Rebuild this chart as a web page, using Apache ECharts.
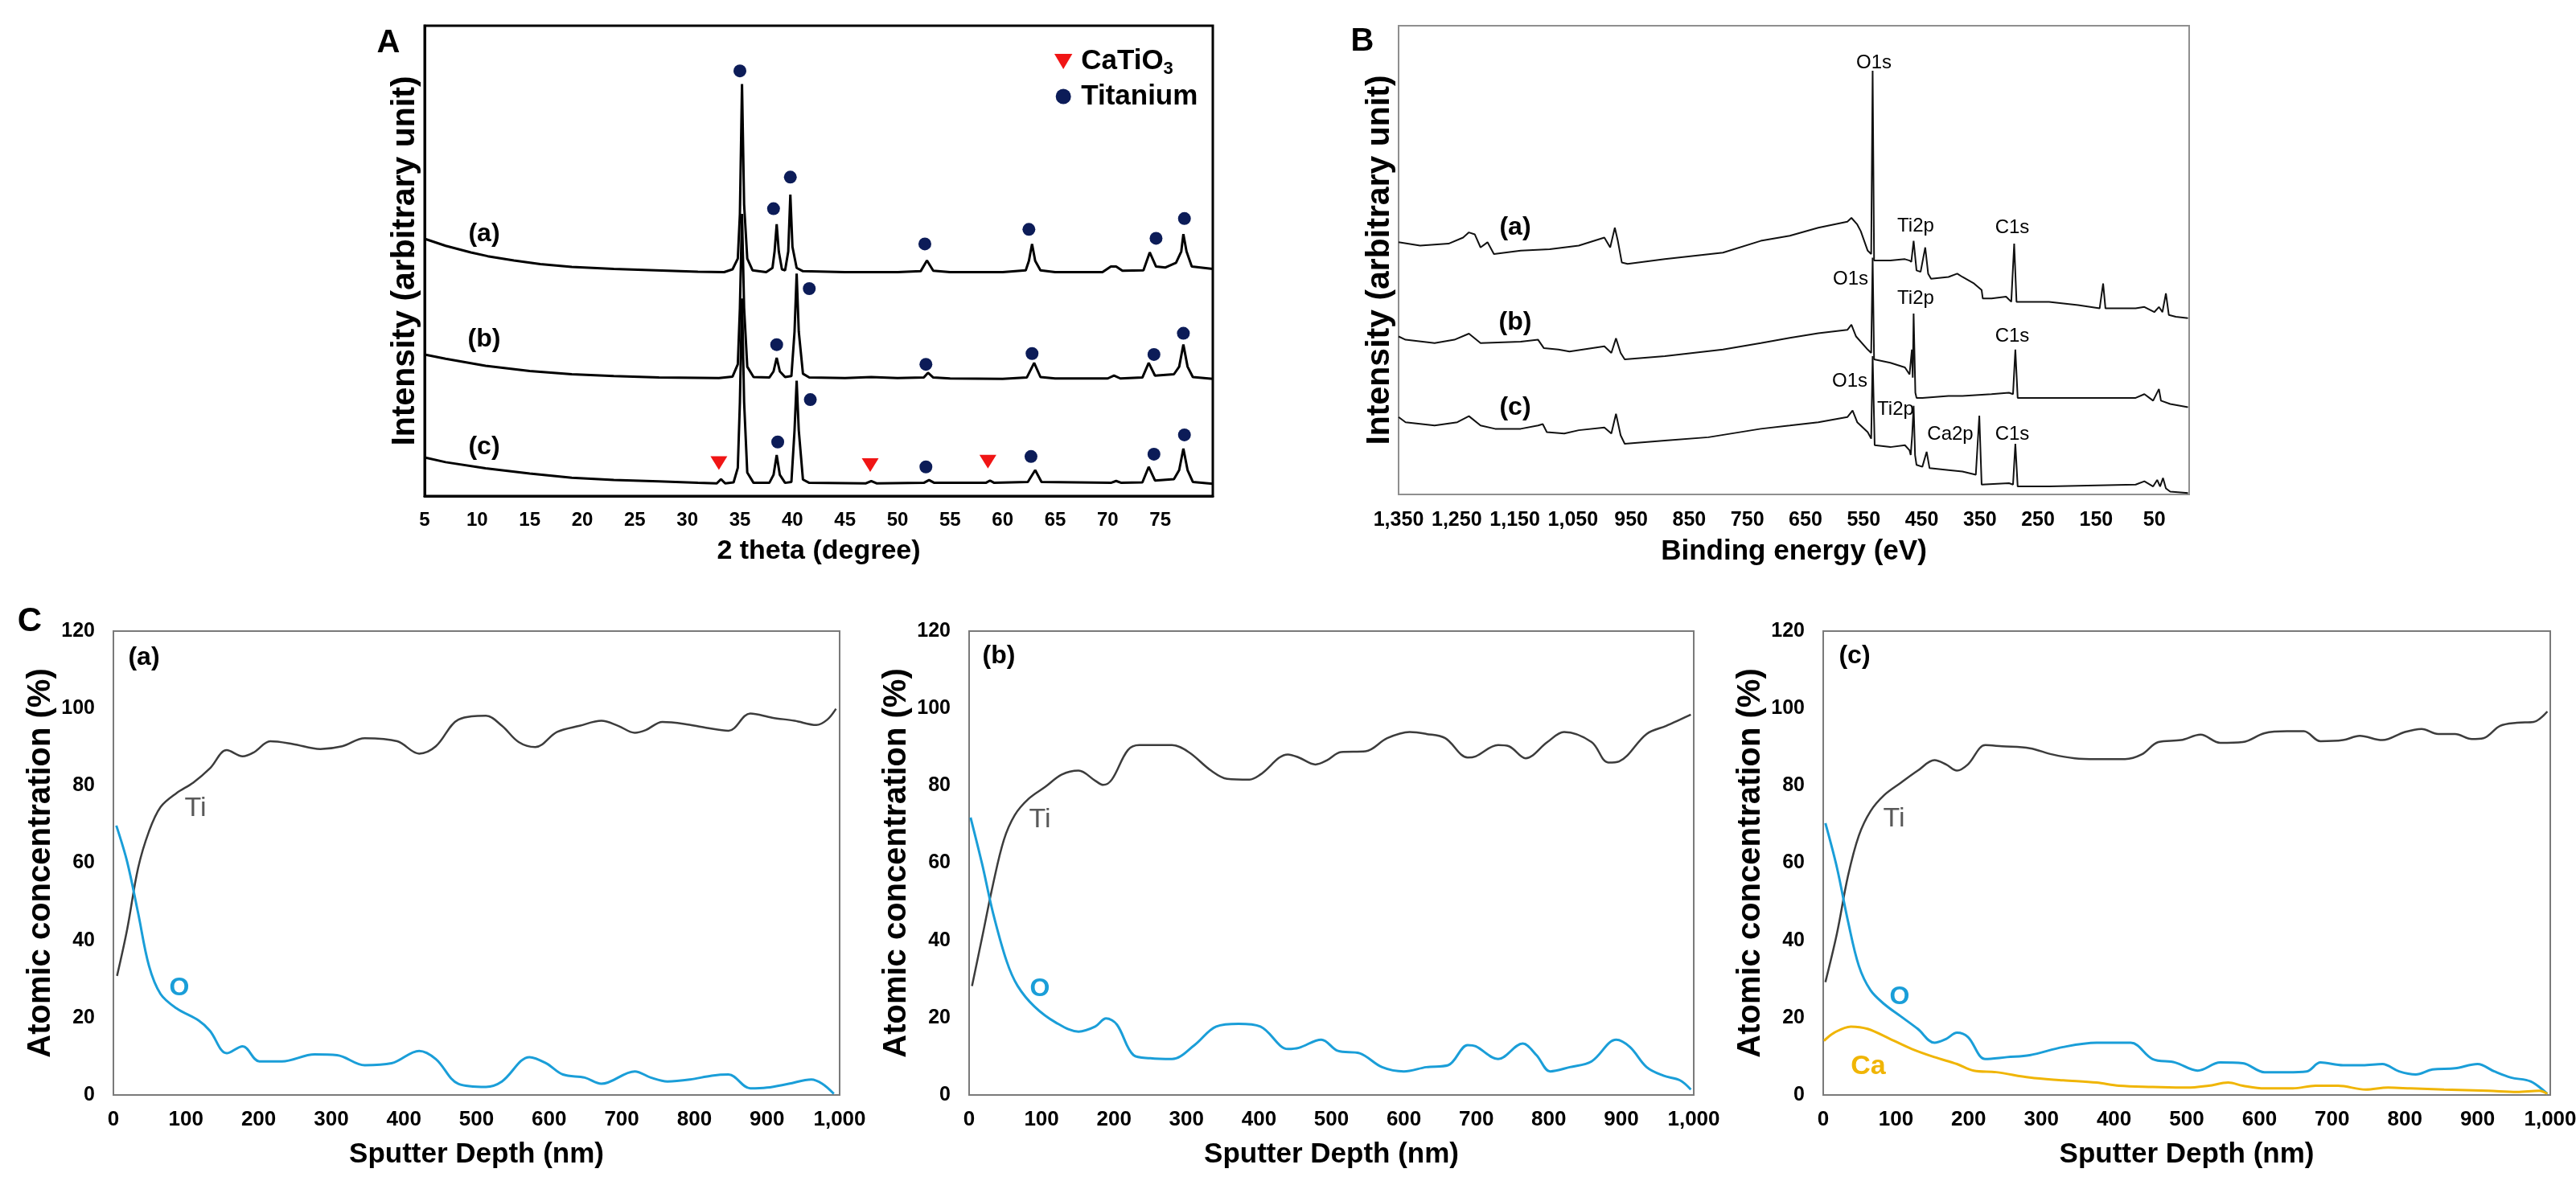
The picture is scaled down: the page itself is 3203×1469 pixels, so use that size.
<!DOCTYPE html>
<html>
<head>
<meta charset="utf-8">
<title>XRD, XPS and depth profiles</title>
<script src="https://cdn.jsdelivr.net/npm/echarts@6/dist/echarts.min.js"></script>
<style>
  html, body { margin: 0; padding: 0; background: #fff; }
  #chart { width: 3203px; height: 1469px; }
</style>
</head>
<body>
<div id="chart"></div>
<script>
// ---------- A: XRD patterns [2 theta, intensity (arb.)], curves stacked ----------
const xrdA = [[5,54.7],[7,53.2],[9.4,51.8],[11,51.0],[13.5,50.1],[16,49.3],[19,48.7],[23,48.3],[27,48.0],[31,47.7],[33.5,47.6],[34.3,48.2],[34.8,50.5],[35.0,60],[35.2,87.6],[35.4,62],[35.7,50.5],[36.2,48.0],[37.5,47.6],[38.1,48.5],[38.3,52],[38.5,57.8],[38.7,52],[39.0,48.2],[39.3,48.0],[39.6,52],[39.8,64.1],[40.0,53],[40.4,48.5],[41,47.8],[45,47.6],[50,47.6],[52.2,47.8],[52.8,50.1],[53.4,47.9],[55,47.6],[60,47.6],[62.2,48.0],[62.5,50],[62.8,53.6],[63.1,50],[63.6,48.0],[65,47.6],[69.5,47.6],[70.3,48.8],[70.8,48.8],[71.4,47.9],[73.4,48.0],[74.0,51.8],[74.6,48.8],[75.5,48.6],[76.5,49.6],[77.0,52],[77.2,55.7],[77.5,52],[78.0,48.8],[80,48.3]];
const xrdB = [[5,30.1],[7,29.2],[10.8,27.7],[15,26.6],[19,25.9],[23,25.5],[27.3,25.2],[33,25.1],[34.3,25.4],[34.8,28],[35.0,40],[35.2,60],[35.4,40],[35.7,27.5],[36.3,25.3],[37.8,25.2],[38.2,26.5],[38.5,29.4],[38.8,26.5],[39.3,25.3],[39.9,25.5],[40.2,35],[40.4,47.3],[40.6,35],[41.0,26],[41.6,25.2],[45,25.1],[47.5,25.3],[50,25.1],[52.5,25.2],[52.9,26.2],[53.4,25.2],[55,25.0],[60,24.9],[62.3,25.2],[63.0,28.3],[63.6,25.3],[65,25.0],[70,25.0],[70.6,25.6],[71.2,25.0],[73.3,25.2],[73.9,28.3],[74.5,25.6],[76.3,25.9],[76.8,27.5],[77.2,32.2],[77.6,27.5],[78.1,25.3],[80,24.9]];
const xrdC = [[5,8.2],[7,7.2],[10.8,5.9],[15,4.8],[19,3.9],[23,3.4],[27.3,3.1],[31,2.8],[32.8,2.7],[33.2,3.6],[33.6,2.7],[34.4,2.9],[34.8,6],[35.0,20],[35.2,42],[35.4,20],[35.7,5],[36.3,2.8],[37.8,2.8],[38.2,4.5],[38.5,8.7],[38.8,4.5],[39.3,2.8],[39.9,3.0],[40.2,14],[40.4,24.5],[40.6,14],[41.0,3.5],[41.6,2.8],[47.0,2.7],[47.5,3.2],[48.0,2.7],[52.5,2.8],[53.0,3.4],[53.5,2.8],[58.4,2.8],[58.8,3.3],[59.2,2.8],[62.4,3.0],[63.1,5.5],[63.7,3.0],[70.3,2.8],[70.8,3.2],[71.3,2.8],[73.3,2.9],[73.9,6.2],[74.5,3.3],[76.3,3.6],[76.8,5.5],[77.2,10.1],[77.6,5.5],[78.1,3.0],[80,2.6]];
const titaniumPeaks = [[35.0,90.4],[38.2,61.1],[39.8,67.8],[52.6,53.6],[62.5,56.7],[74.6,54.8],[77.3,59.0],
  [41.6,44.1],[38.5,32.2],[52.7,28.0],[62.8,30.3],[74.4,30.1],[77.2,34.6],
  [41.7,20.5],[38.6,11.5],[52.7,6.2],[62.7,8.4],[74.4,8.9],[77.3,13.0]];
const catio3Peaks = [[33.0,7.0],[47.4,6.6],[58.6,7.3]];

// ---------- B: XPS survey [binding energy eV, intensity (arb.)] ----------
const xpsA = [[1350,53.8],[1313,53.1],[1264,53.5],[1239,54.8],[1229,55.9],[1219,55.5],[1209,52.7],[1197,53.8],[1186,51.3],[1140,52.0],[1090,52.3],[1040,53.1],[996,54.8],[986,52.7],[978,56.9],[973,54.2],[966,49.5],[956,49.2],[892,50.2],[792,51.6],[727,54.1],[677,55.2],[628,56.9],[578,58.2],[571,59.0],[561,57.6],[555,56.2],[543,52.0],[537,51.3],[534.5,90.4],[532,49.9],[504,49.9],[479,50.2],[471,49.9],[468,49.6],[464,54.1],[459,47.8],[452,47.5],[444,52.7],[439,47.1],[434,46.0],[404,46.4],[389,47.1],[380,46.4],[360,45.0],[347,43.6],[345,41.8],[330,41.8],[305,42.2],[296,41.1],[291,53.5],[287,41.1],[281,41.1],[231,41.1],[181,40.4],[144,39.7],[138,45.0],[134,39.7],[82,39.7],[67,40.0],[50,38.9],[42,40.0],[36,38.9],[30,42.9],[25,38.3],[13,37.9],[-8,37.6]];
const xpsB = [[1350,33.7],[1338,33.0],[1288,32.3],[1254,33.0],[1229,34.3],[1209,32.3],[1140,32.6],[1110,33.0],[1100,31.2],[1075,30.9],[1056,30.5],[996,31.6],[984,30.2],[976,33.3],[968,30.2],[961,28.8],[892,29.5],[792,30.9],[727,32.3],[677,33.4],[628,34.4],[578,35.1],[571,36.2],[563,33.7],[543,30.9],[537,30.2],[534.5,50.5],[532,28.8],[504,28.1],[479,27.1],[471,25.6],[469,25.3],[467,30.9],[465.5,24.9],[464,38.6],[461,21.7],[459,20.6],[449,20.6],[404,21.0],[380,21.0],[330,21.4],[300,21.7],[293,21.4],[289,30.9],[285,20.6],[231,20.6],[82,20.6],[67,21.4],[52,20.0],[42,22.5],[38.5,20.0],[22.6,19.3],[-8,18.6]];
const xpsC = [[1350,16.5],[1338,15.4],[1288,14.7],[1249,15.4],[1229,16.7],[1209,14.7],[1184,14.0],[1140,14.0],[1110,14.7],[1102,15.0],[1095,13.3],[1065,13.0],[1040,13.7],[996,14.3],[984,13.0],[976,17.2],[968,12.6],[961,10.8],[892,11.5],[817,12.2],[727,14.0],[677,14.7],[628,15.4],[578,16.5],[569,17.9],[561,15.4],[543,13.3],[537,11.9],[534.5,29.5],[531,10.5],[504,10.1],[479,10.5],[471,9.4],[469,8.4],[466.5,12.6],[464,18.9],[461.5,8.4],[459,6.3],[449,5.9],[441.6,9.1],[436.6,5.6],[404,5.2],[380,4.9],[357,4.2],[351,16.8],[347,2.1],[300,2.4],[293,2.1],[289,10.8],[285,1.7],[231,1.7],[82,2.1],[67,2.8],[52,1.7],[45,3.1],[40,1.7],[35,3.5],[30,1.3],[22.6,0.6],[-8,0.3]];

// ---------- C: depth profiles [sputter depth nm, atomic %] ----------
const tiA = [[5,30.8],[19,42.9],[34,58.7],[49,68.2],[65,74.5],[87,78.1],[110,80.8],[133,84.5],[156,89.2],[178,87.6],[194,88.7],[216,91.5],[247,90.8],[285,89.5],[315,90.2],[346,92.3],[391,91.5],[421,88.3],[444,90.2],[475,97.1],[513,98.1],[535,95.5],[558,91.3],[581,90.0],[611,93.9],[642,95.5],[672,96.8],[695,95.5],[718,93.7],[733,94.4],[756,96.5],[786,96.0],[816,95.0],[847,94.2],[877,98.7],[907,97.6],[938,96.8],[968,95.7],[983,97.1],[995,99.9]];
const oA = [[4,69.7],[19,60.3],[34,47.1],[49,33.4],[65,26.1],[87,22.4],[118,19.2],[133,16.6],[156,10.8],[178,12.6],[201,8.7],[232,8.7],[277,10.5],[308,10.3],[346,7.7],[383,8.2],[421,11.4],[444,9.3],[475,2.9],[513,2.1],[535,3.5],[573,9.8],[596,8.2],[619,5.3],[649,4.5],[672,2.9],[718,6.1],[740,4.5],[763,3.5],[794,4.0],[824,5.0],[847,5.3],[877,1.7],[900,1.9],[930,2.9],[961,4.0],[976,2.9],[992,0.3]];
const tiB = [[4,28.2],[18,40.8],[33,54.5],[48,66.0],[63,72.4],[82,76.6],[105,79.7],[128,82.9],[151,83.9],[174,81.3],[185,80.2],[197,81.6],[219,89.2],[235,90.5],[280,90.5],[303,88.7],[334,83.9],[356,81.8],[387,81.6],[402,82.9],[440,88.1],[455,87.3],[478,85.5],[494,86.6],[513,88.7],[547,88.9],[577,92.3],[608,93.9],[631,93.4],[657,92.3],[688,87.3],[699,87.6],[730,90.5],[745,90.2],[768,87.1],[798,91.3],[821,93.9],[859,91.3],[882,86.0],[897,86.3],[935,93.4],[962,95.5],[981,97.1],[996,98.4]];
const oB = [[2,71.8],[18,59.7],[33,47.1],[52,34.5],[67,28.2],[90,22.9],[120,18.7],[151,16.4],[174,17.7],[189,19.8],[204,18.2],[227,10.3],[250,9.5],[280,9.3],[311,12.9],[341,17.7],[372,18.4],[402,17.7],[440,11.9],[455,12.2],[486,14.3],[509,11.4],[539,10.8],[570,7.2],[600,6.1],[631,7.2],[661,7.7],[688,12.9],[699,12.6],[730,9.3],[764,13.3],[783,10.3],[802,6.1],[829,7.2],[859,8.7],[893,14.3],[912,12.4],[935,7.2],[958,5.0],[981,3.8],[996,1.4]];
const tiC = [[3,29.2],[19,41.9],[34,56.6],[49,67.1],[65,73.4],[84,77.6],[107,80.8],[130,83.9],[153,86.6],[169,85.5],[184,83.9],[199,85.5],[223,90.5],[246,90.2],[284,89.7],[315,88.1],[346,87.1],[376,86.9],[415,86.9],[438,88.1],[461,91.3],[492,91.8],[519,93.2],[546,91.1],[577,91.3],[607,93.6],[638,94.1],[661,94.1],[684,91.5],[715,91.8],[738,92.9],[769,91.8],[800,93.9],[823,94.7],[846,93.4],[869,93.4],[892,92.1],[908,92.3],[931,95.5],[954,96.3],[977,96.5],[996,99.2]];
const oC = [[3,70.3],[19,58.7],[34,45.0],[49,33.4],[65,27.1],[84,23.5],[107,20.3],[130,17.1],[153,13.5],[169,14.5],[184,16.1],[199,15.0],[223,9.3],[253,9.8],[284,10.3],[330,12.4],[376,13.5],[423,13.5],[453,9.3],[484,8.4],[515,6.3],[546,8.4],[577,8.2],[607,5.9],[638,5.9],[665,6.1],[684,8.4],[715,7.7],[742,7.7],[769,8.0],[792,6.1],[815,5.3],[838,6.6],[869,6.9],[900,8.0],[923,6.1],[946,4.5],[973,3.5],[996,0.3]];
const caC = [[1,14.0],[15,16.1],[38,17.7],[61,17.1],[92,14.5],[122,11.9],[153,9.8],[184,8.0],[207,6.3],[238,5.9],[284,4.5],[330,3.8],[376,3.2],[407,2.4],[453,2.1],[500,1.9],[530,2.4],[557,3.2],[577,2.4],[607,1.7],[646,1.7],[677,2.4],[708,2.4],[746,1.4],[777,1.9],[808,1.7],[854,1.4],[915,1.1],[954,0.8],[985,1.1],[996,0.3]];

const BE_START = 1350; // left end of the binding energy axis

const FONT = "'Liberation Sans', Arial, Helvetica, sans-serif";
const TI_COLOR = '#3c3c3c';
const O_COLOR = '#1a9ed8';
const CA_COLOR = '#f0b505';
const NAVY = '#0c1c58';
const RED = '#f01515';
const DOWN_TRIANGLE = 'path://M0,0 L20,0 L10,17 Z';

// annotations: [text, x, y, size, weight, color]
const annotations = [
  ['A', 483, 54, 40, 'bold', '#000'],
  ['B', 1694, 52, 40, 'bold', '#000'],
  ['C', 37, 773, 42, 'bold', '#000'],
  ['(a)', 602, 291, 32, 'bold', '#000'],
  ['(b)', 602, 422, 32, 'bold', '#000'],
  ['(c)', 602, 556, 32, 'bold', '#000'],
  ['(a)', 1884, 283, 32, 'bold', '#000'],
  ['(b)', 1884, 401, 32, 'bold', '#000'],
  ['(c)', 1884, 507, 32, 'bold', '#000'],
  ['O1s', 2330, 78, 24, 'normal', '#000'],
  ['Ti2p', 2382, 281, 24, 'normal', '#000'],
  ['C1s', 2502, 283, 24, 'normal', '#000'],
  ['O1s', 2301, 347, 24, 'normal', '#000'],
  ['Ti2p', 2382, 371, 24, 'normal', '#000'],
  ['C1s', 2502, 418, 24, 'normal', '#000'],
  ['O1s', 2300, 474, 24, 'normal', '#000'],
  ['Ti2p', 2357, 509, 24, 'normal', '#000'],
  ['Ca2p', 2425, 540, 24, 'normal', '#000'],
  ['C1s', 2502, 540, 24, 'normal', '#000'],
  ['(a)', 179, 818, 32, 'bold', '#000'],
  ['(b)', 1242, 816, 32, 'bold', '#000'],
  ['(c)', 2306, 816, 32, 'bold', '#000'],
  ['Ti', 243, 1006, 34, 'normal', '#595959'],
  ['O', 223, 1229, 32, 'bold', O_COLOR],
  ['Ti', 1293, 1020, 34, 'normal', '#595959'],
  ['O', 1293, 1230, 32, 'bold', O_COLOR],
  ['Ti', 2355, 1019, 34, 'normal', '#595959'],
  ['O', 2362, 1240, 32, 'bold', O_COLOR],
  ['Ca', 2323, 1327, 34, 'bold', CA_COLOR]
];

const chart = echarts.init(document.getElementById('chart'), null, { renderer: 'canvas' });

const boldText = (size) => ({ fontSize: size, fontWeight: 'bold', color: '#000', fontFamily: FONT });
const noAxisBits = { axisTick: { show: false }, splitLine: { show: false } };

const gridBox = (left, top, width, height, color, bw) => ({
  left, top, width, height, show: true, borderColor: color, borderWidth: bw,
  containLabel: false, outerBoundsMode: 'none'
});

const grids = [
  gridBox(528, 32, 980, 585, '#000', 3),
  gridBox(1739, 32, 983, 583, '#8f8f8f', 2),
  gridBox(141, 785, 903, 577, '#7a7a7a', 2),
  gridBox(1205, 785, 901, 577, '#7a7a7a', 2),
  gridBox(2267, 785, 904, 577, '#7a7a7a', 2)
];

const xAxes = [
  Object.assign({
    gridIndex: 0, type: 'value', min: 5, max: 80, interval: 5,
    axisLine: { lineStyle: { color: '#000', width: 3 } },
    axisLabel: Object.assign({ margin: 18, showMaxLabel: false }, boldText(24)),
    name: '2 theta (degree)', nameLocation: 'middle', nameGap: 52, nameTextStyle: boldText(34)
  }, noAxisBits),
  Object.assign({
    gridIndex: 1, type: 'value', min: 0, max: 1360, interval: 100,
    axisLine: { lineStyle: { color: '#8f8f8f', width: 2 } },
    axisLabel: Object.assign({
      margin: 20, showMaxLabel: false,
      formatter: (v) => (BE_START - v).toLocaleString('en-US')
    }, boldText(25)),
    name: 'Binding energy (eV)', nameLocation: 'middle', nameGap: 54, nameTextStyle: boldText(35)
  }, noAxisBits)
];
for (let i = 2; i < 5; i++) {
  xAxes.push(Object.assign({
    gridIndex: i, type: 'value', min: 0, max: 1000, interval: 100,
    axisLine: { lineStyle: { color: '#7a7a7a', width: 2 } },
    axisLabel: Object.assign({ margin: 18, formatter: (v) => v.toLocaleString('en-US') }, boldText(26)),
    name: 'Sputter Depth (nm)', nameLocation: 'middle', nameGap: 57, nameTextStyle: boldText(35)
  }, noAxisBits));
}

const yAxes = [
  Object.assign({
    gridIndex: 0, type: 'value', min: 0, max: 100,
    axisLine: { show: true, lineStyle: { color: '#000', width: 3 } },
    axisLabel: { show: false },
    name: 'Intensity (arbitrary unit)', nameLocation: 'middle', nameRotate: 90, nameGap: 4,
    nameTextStyle: boldText(41)
  }, noAxisBits),
  Object.assign({
    gridIndex: 1, type: 'value', min: 0, max: 100,
    axisLine: { show: true, lineStyle: { color: '#8f8f8f', width: 2 } },
    axisLabel: { show: false },
    name: 'Intensity (arbitrary unit)', nameLocation: 'middle', nameRotate: 90, nameGap: 3,
    nameTextStyle: boldText(41)
  }, noAxisBits)
];
for (let i = 2; i < 5; i++) {
  yAxes.push(Object.assign({
    gridIndex: i, type: 'value', min: 0, max: 120, interval: 20,
    axisLine: { show: true, lineStyle: { color: '#7a7a7a', width: 2 } },
    axisLabel: Object.assign({ margin: 23 }, boldText(25)),
    name: 'Atomic concentration (%)', nameLocation: 'middle', nameRotate: 90, nameGap: 70,
    nameTextStyle: boldText(40)
  }, noAxisBits));
}

const line = (idx, data, color, width, smooth) => ({
  type: 'line', xAxisIndex: idx, yAxisIndex: idx, data,
  showSymbol: false, symbol: 'none', smooth: smooth || false,
  lineStyle: { color, width }, z: 3
});

const series = [
  line(0, xrdA, '#000', 3),
  line(0, xrdB, '#000', 3),
  line(0, xrdC, '#000', 3),
  {
    name: 'Titanium', type: 'scatter', xAxisIndex: 0, yAxisIndex: 0, data: titaniumPeaks,
    symbol: 'circle', symbolSize: 16, itemStyle: { color: NAVY, opacity: 1 }, z: 5
  },
  {
    name: 'CaTiO3', type: 'scatter', xAxisIndex: 0, yAxisIndex: 0, data: catio3Peaks,
    symbol: DOWN_TRIANGLE, symbolSize: [21, 17], itemStyle: { color: RED, opacity: 1 }, z: 5
  }
];
[xpsA, xpsB, xpsC].forEach((curve) => {
  series.push(line(1, curve.map((p) => [BE_START - p[0], p[1]]), '#111', 2));
});
series.push(line(2, tiA, TI_COLOR, 2.5, 0.35), line(2, oA, O_COLOR, 3, 0.35));
series.push(line(3, tiB, TI_COLOR, 2.5, 0.35), line(3, oB, O_COLOR, 3, 0.35));
series.push(line(4, tiC, TI_COLOR, 2.5, 0.35), line(4, oC, O_COLOR, 3, 0.35), line(4, caC, CA_COLOR, 3, 0.35));

const graphic = annotations.map(([text, x, y, size, weight, color]) => ({
  type: 'text', x, y, z: 10,
  style: {
    text, fill: color, align: 'center', verticalAlign: 'middle',
    font: `${weight} ${size}px ${FONT}`
  }
}));

chart.setOption({
  animation: false,
  backgroundColor: '#fff',
  grid: grids,
  xAxis: xAxes,
  yAxis: yAxes,
  legend: {
    data: [
      { name: 'CaTiO3', icon: DOWN_TRIANGLE, itemStyle: { color: RED, opacity: 1 } },
      { name: 'Titanium', icon: 'circle', itemStyle: { color: NAVY, opacity: 1 } }
    ],
    orient: 'vertical', left: 1306, top: 54,
    itemWidth: 34, itemHeight: 19, itemGap: 6,
    formatter: (n) => (n === 'CaTiO3' ? 'CaTiO{sub|3}' : n),
    textStyle: {
      fontSize: 35, fontWeight: 'bold', color: '#000', fontFamily: FONT,
      rich: { sub: { fontSize: 22, fontWeight: 'bold', color: '#000', fontFamily: FONT, padding: [18, 0, 0, 0], verticalAlign: 'bottom' } }
    }
  },
  series,
  graphic
});
</script>
</body>
</html>
